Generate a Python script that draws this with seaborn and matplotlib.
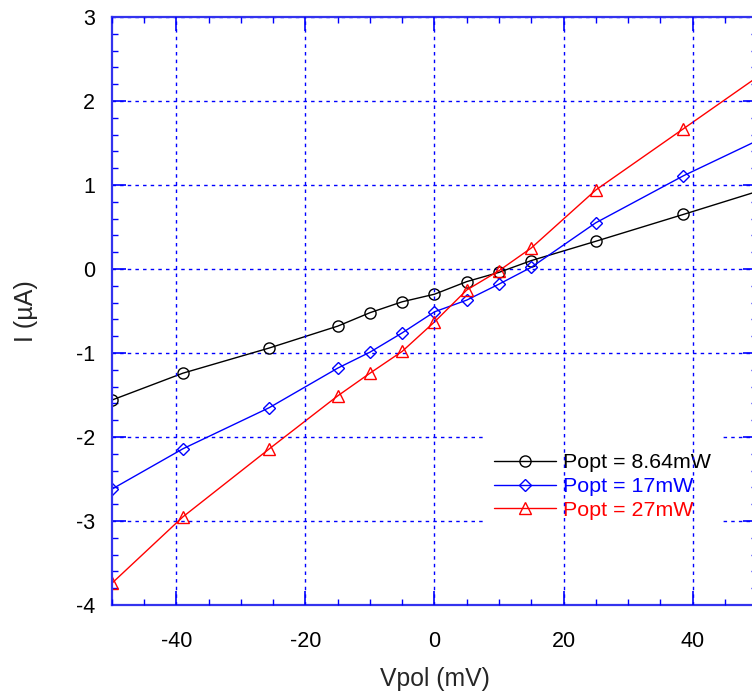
import numpy as np
import pandas as pd
import matplotlib
matplotlib.use("Agg")
import matplotlib.pyplot as plt
from matplotlib.ticker import MultipleLocator
import seaborn as sns

# bias voltage (mV)
vpol = [-50, -39, -25.6, -15, -10, -5, 0, 5, 10, 15, 25, 38.6, 52]

# photocurrent (uA) for each optical power
i_864 = [-1.56, -1.24, -0.94, -0.68, -0.52, -0.39, -0.30, -0.15, -0.04, 0.10, 0.33, 0.65, 0.97]
i_17 = [-2.62, -2.14, -1.65, -1.18, -0.99, -0.76, -0.51, -0.37, -0.18, 0.02, 0.55, 1.11, 1.60]
i_27 = [-3.74, -2.95, -2.14, -1.51, -1.24, -0.98, -0.63, -0.25, -0.02, 0.25, 0.94, 1.67, 2.39]

labels = ["Popt = 8.64mW", "Popt = 17mW", "Popt = 27mW"]
colors = ["black", "blue", "red"]
markers = ["o", "D", "^"]
msizes = [8, 6.5, 9]

x_ticks = [-40, -20, 0, 20, 40]
y_ticks = [-4, -3, -2, -1, 0, 1, 2, 3]

sns.set_style("ticks")
plt.rcParams["font.family"] = ["Liberation Sans", "DejaVu Sans"]
plt.rcParams["axes.unicode_minus"] = False

fig = plt.figure(figsize=(7.52, 6.93), dpi=100)
ax = fig.add_axes([112 / 752, 1 - 605 / 693, 645 / 752, 588 / 693])

for lab, col, mk, ms, ys in zip(labels, colors, markers, msizes, [i_864, i_17, i_27]):
    df = pd.DataFrame({"Vpol": vpol, "I": ys})
    sns.lineplot(data=df, x="Vpol", y="I", ax=ax, color=col, lw=1.0,
                 marker=mk, markersize=ms, markerfacecolor="none",
                 markeredgecolor=col, markeredgewidth=1.0, label=lab,
                 sort=False, estimator=None)

ax.set_xlim(-50, 50)
ax.set_ylim(-4, 3)
ax.set_xticks(x_ticks)
ax.set_yticks(y_ticks)
ax.xaxis.set_minor_locator(MultipleLocator(5))
ax.yaxis.set_minor_locator(MultipleLocator(0.2))
ax.grid(True, which="major", color="blue", linestyle=(0, (2.5, 3)), lw=1.0)
ax.set_axisbelow(True)

for s in ax.spines.values():
    s.set_color("#3333ee")
    s.set_linewidth(1.6)

ax.tick_params(axis="both", which="major", direction="in", length=10, width=1.2,
               color="blue", labelsize=15.5, labelcolor="black",
               top=True, right=True)
ax.tick_params(axis="both", which="minor", direction="in", length=4.5, width=1.0,
               color="blue", top=True, right=True)
ax.tick_params(axis="x", which="major", pad=19)
ax.tick_params(axis="y", which="major", pad=12)

ax.set_xlabel("Vpol (mV)", fontsize=17.8)
ax.set_ylabel("I (µA)", fontsize=18)
ax.xaxis.set_label_coords(0.5, (605 - 667) / 588)
ax.yaxis.set_label_coords((38 - 112) / 645, 0.5)

# blank tiny title gives the white box extra room on top only
leg = ax.legend(loc="upper left", bbox_to_anchor=(484 / 752, 1 - 435 / 693),
                bbox_transform=fig.transFigure, frameon=True, fontsize=15.4,
                handlelength=2.9, handletextpad=0.33, labelspacing=0.22,
                borderpad=0.45, borderaxespad=0, fancybox=False,
                title=" ", title_fontsize=2)
leg.get_frame().set_facecolor("white")
leg.get_frame().set_edgecolor("none")
leg.get_frame().set_alpha(1)
leg.set_zorder(3)
for txt, col in zip(leg.get_texts(), colors):
    txt.set_color(col)

# vertical grid lines show through the legend box in the original
ax.xaxis.set_zorder(4)

fig.savefig("out.png", dpi=100)
